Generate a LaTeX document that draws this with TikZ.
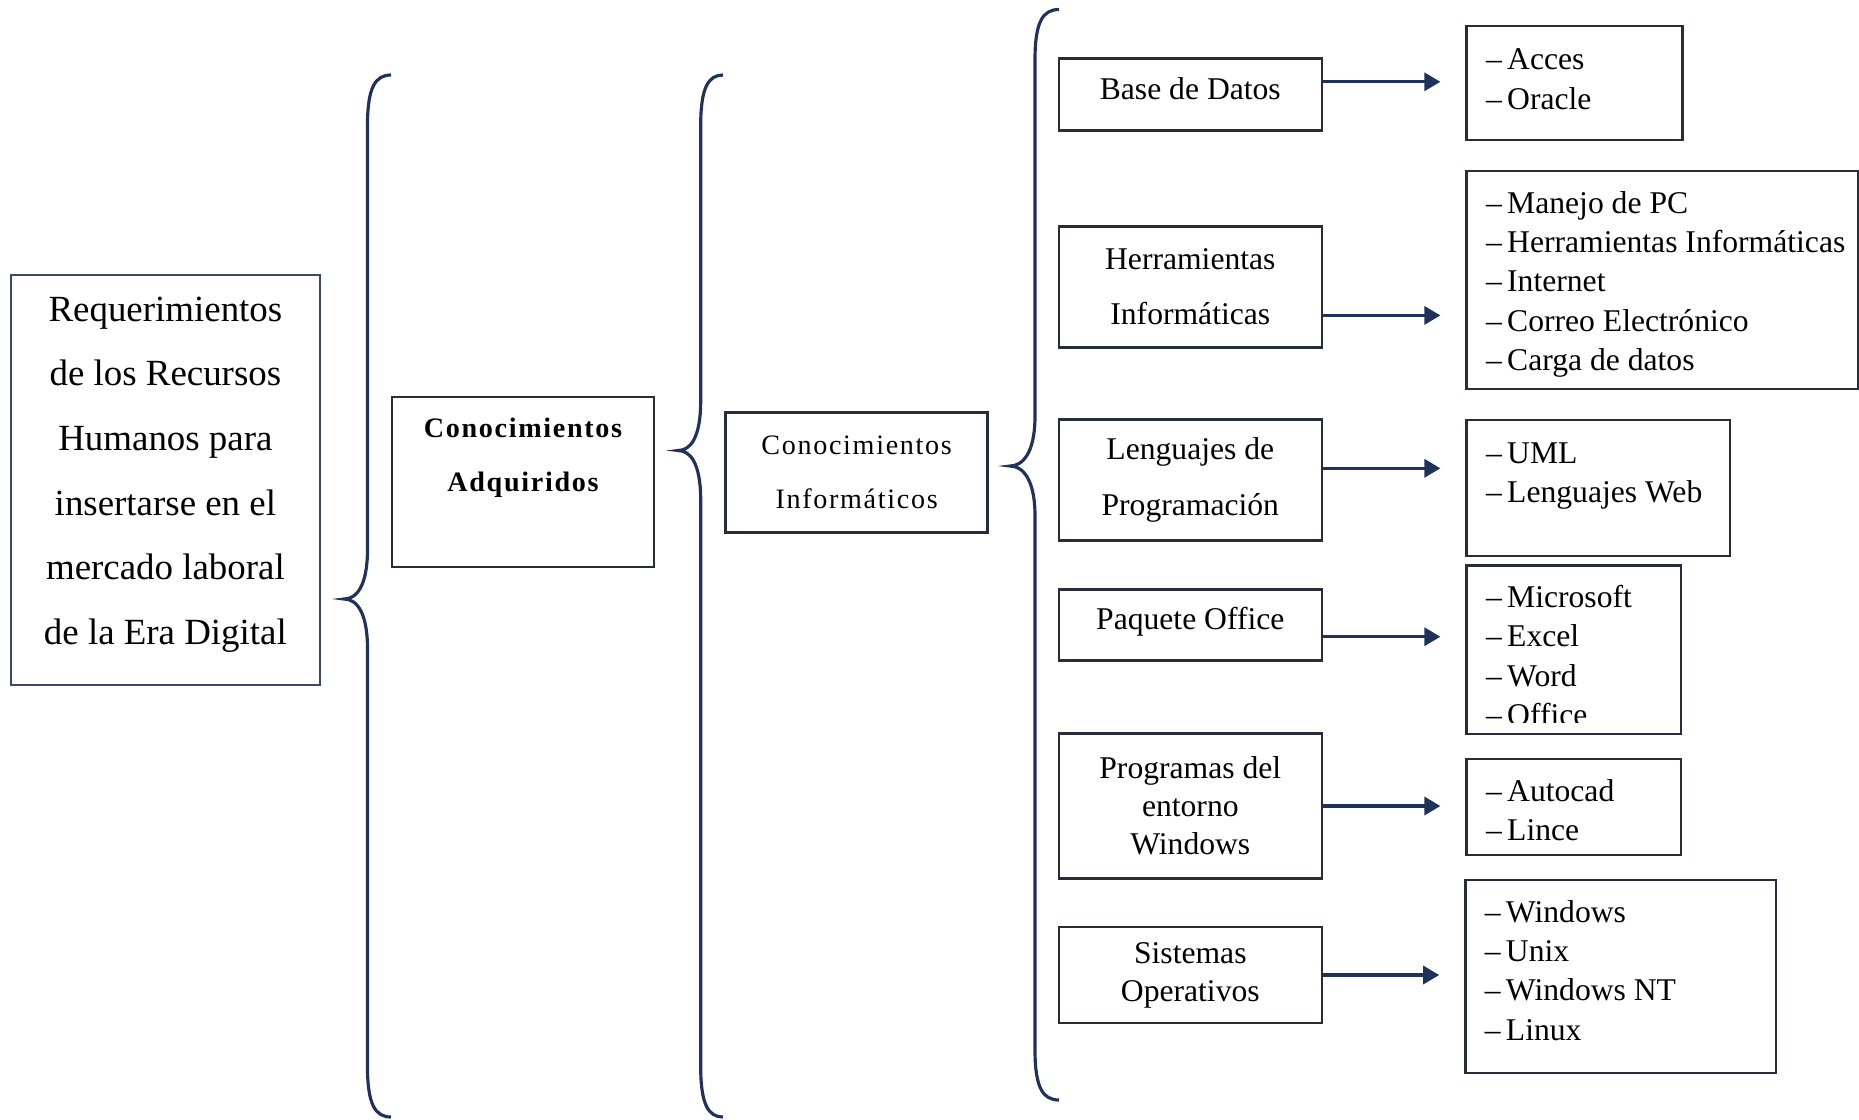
\documentclass[tikz,border=0pt]{standalone}
\usepackage{fontspec}
\setmainfont{Liberation Serif}
\newfontfamily\spaced[LetterSpace=6]{Liberation Serif}
\usetikzlibrary{arrows.meta}
\definecolor{navy}{RGB}{31,50,90}
\definecolor{boxline}{RGB}{40,45,60}
\tikzset{
  box/.style={draw=boxline, line width=0.7pt, align=center, inner sep=0pt, font=\fontsize{9}{15.6}\selectfont},
  lbox/.style={draw=boxline, line width=0.7pt, anchor=north west, inner sep=0pt},
  items/.style={anchor=north west, align=left, inner xsep=0.2cm, inner ysep=0.21cm, font=\fontsize{9}{11.2}\selectfont},
  arr/.style={navy, line width=0.9pt, -{Triangle[length=1.6mm,width=1.8mm]}, shorten >=0.25cm},
  brace/.style={navy, line width=0.9pt},
}
\begin{document}
\begin{tikzpicture}
  \useasboundingbox (0,0) rectangle (18.59,-11.19);

  % left part
  \node[box, minimum width=3.09cm, minimum height=4.10cm, draw=navy!70!gray] (req) at (1.654,-4.80) {};
  \node[align=center, inner sep=0pt, font=\fontsize{10.5}{18.4}\selectfont] (reqt) at ([yshift=0.055cm]req.center)
    {Requerimientos\\de los Recursos\\Humanos para\\insertarse en el\\mercado laboral\\de la Era Digital};
  \node[box, minimum width=2.62cm, minimum height=1.70cm, font=\spaced\bfseries\fontsize{8}{15.5}\selectfont]
    (adq) at (5.23,-4.82) {Conocimientos\\Adquiridos\\\mbox{}};
  \node[box, minimum width=2.62cm, minimum height=1.20cm, font=\spaced\fontsize{8}{15.5}\selectfont]
    (inf) at (8.566,-4.725) {Conocimientos\\Informáticos};

  % braces
  \foreach \xe/\xl/\xt/\yt/\yc/\yb in {3.91/3.675/3.44/-0.75/-5.99/-11.17,
                                       7.23/7.007/6.78/-0.75/-4.505/-11.17,
                                       10.59/10.35/10.10/-0.095/-4.66/-11.0} {
    \draw[brace] (\xe,\yt) .. controls (\xl+0.08,\yt) and (\xl,\yt-0.12) .. (\xl,\yt-0.5)
      -- (\xl,\yc+0.5) .. controls (\xl,\yc+0.12) and (\xt+0.12,\yc) .. (\xt,\yc)
      .. controls (\xt+0.12,\yc) and (\xl,\yc-0.12) .. (\xl,\yc-0.5)
      -- (\xl,\yb+0.5) .. controls (\xl,\yb+0.12) and (\xl+0.08,\yb) .. (\xe,\yb);
  }

  % middle column
  \node[box, minimum width=2.63cm, minimum height=0.72cm, text depth=0.12cm] (bd) at (11.903,-0.943) {Base de Datos};
  \node[box, minimum width=2.63cm, minimum height=1.21cm] (herr) at (11.903,-2.87) {Herramientas\\Informáticas};
  \node[box, minimum width=2.63cm, minimum height=1.21cm, font=\fontsize{9}{16.1}\selectfont]
    (leng) at (11.903,-4.80) {Lenguajes de\\Programación};
  \node[box, minimum width=2.63cm, minimum height=0.71cm, text depth=0.14cm] (paq) at (11.903,-6.25) {Paquete Office};
  \node[box, minimum width=2.63cm, minimum height=1.446cm, font=\fontsize{9}{10.8}\selectfont]
    (prog) at (11.903,-8.06) {Programas del\\entorno\\Windows};
  \node[box, minimum width=2.63cm, minimum height=0.96cm, font=\fontsize{9}{10.8}\selectfont]
    (sist) at (11.903,-9.75) {Sistemas\\Operativos};

  % lists
  \node[lbox, minimum width=2.158cm, minimum height=1.138cm] (acc) at (14.654,-0.249) {};
  \node[items, inner ysep=0.234cm] (accl) at (acc.north west) {\textendash\,Acces\\\textendash\,Oracle};
  \node[lbox, minimum width=3.92cm, minimum height=2.182cm] (man) at (14.654,-1.695) {};
  \node[items] (manl) at (man.north west)
    {\textendash\,Manejo de PC\\\textendash\,Herramientas Informáticas\\\textendash\,Internet\\\textendash\,Correo Electrónico\\\textendash\,Carga de datos};
  \node[lbox, minimum width=2.632cm, minimum height=1.364cm] (uml) at (14.654,-4.185) {};
  \node[items, inner ysep=0.234cm] (umll) at (uml.north west) {\textendash\,UML\\\textendash\,Lenguajes Web};
  \node[lbox, minimum width=2.146cm, minimum height=1.684cm] (mic) at (14.654,-5.643) {};
  \begin{scope}
    \clip (mic.north west) rectangle ([yshift=0.13cm]mic.south east);
    \node[items, inner ysep=0.2cm] (micl) at (mic.north west)
      {\textendash\,Microsoft\\\textendash\,Excel\\\textendash\,Word\\\textendash\,Office};
  \end{scope}
  \node[lbox, minimum width=2.146cm, minimum height=0.96cm] (aut) at (14.654,-7.576) {};
  \node[items] (autl) at (aut.north west) {\textendash\,Autocad\\\textendash\,Lince};
  \node[lbox, minimum width=3.106cm, minimum height=1.933cm] (win) at (14.642,-8.785) {};
  \node[items] (winl) at (win.north west)
    {\textendash\,Windows\\\textendash\,Unix\\\textendash\,Windows NT\\\textendash\,Linux};

  % arrows
  \foreach \a/\b/\d in {bd/acc/0.125, herr/man/-0.284, leng/uml/0.117,
                        paq/mic/-0.117, prog/aut/0, sist/win/0} {
    \coordinate (s\a) at ([yshift=\d cm]\a.east);
    \draw[arr] (s\a) -- (s\a -| \b.west);
  }
\end{tikzpicture}
\end{document}
